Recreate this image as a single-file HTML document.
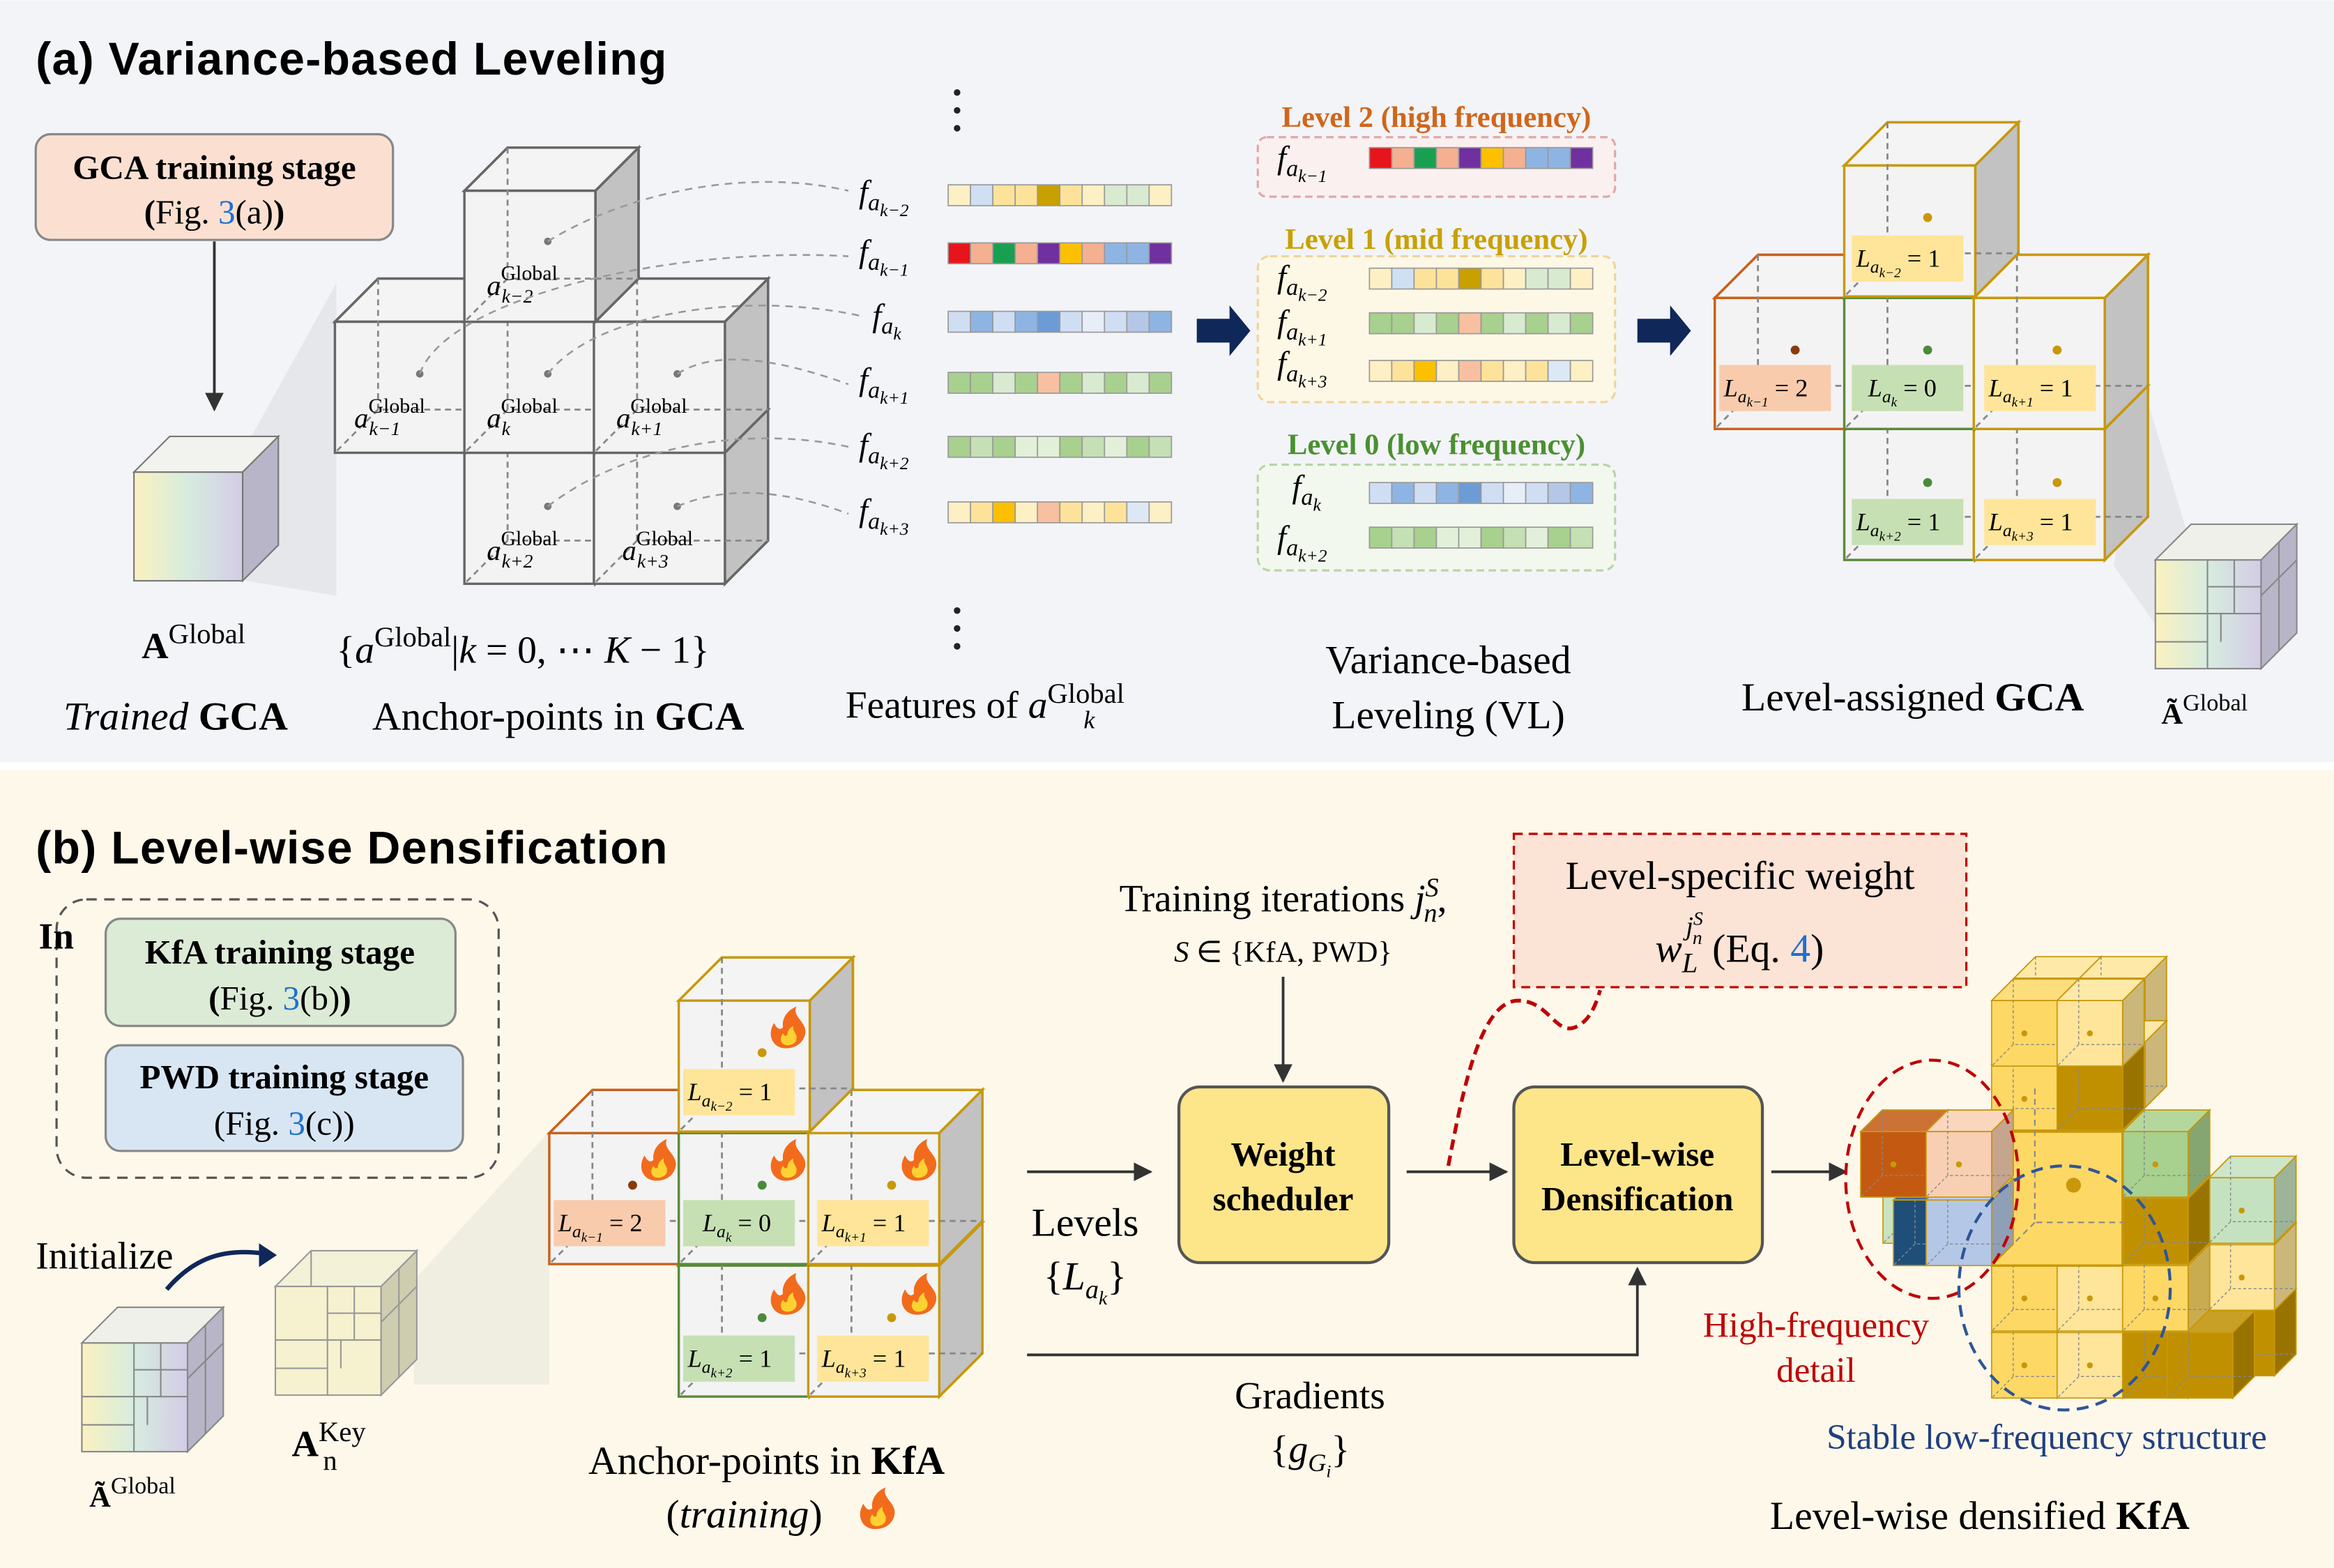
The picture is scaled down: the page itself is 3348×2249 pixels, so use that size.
<!DOCTYPE html>
<html><head><meta charset="utf-8"><style>
html,body{margin:0;padding:0;background:#fff}
svg{display:block}
.s{font-family:"Liberation Serif",serif}
.h{font-family:"Liberation Sans",sans-serif;font-weight:bold}
.m{font-family:"Liberation Serif",serif;font-style:italic}
</style></head><body>
<svg width="3348" height="2249" viewBox="0 0 1568 1053" xmlns="http://www.w3.org/2000/svg">
<defs>
<g id="cube" stroke-width="1.6">
<polygon points="0,0 29,-29 117,-29 88,0"/>
<polygon points="0,0 29,-29 117,-29 88,0" fill="#fff" fill-opacity=".15"/>
<polygon points="88,0 117,-29 117,59 88,88"/>
<polygon points="88,0 117,-29 117,59 88,88" fill="#000" fill-opacity=".2"/>
<rect width="88" height="88"/>
<path d="M29,-29V59H117M29,59L0,88" fill="none" stroke="#888" stroke-width="1.3" stroke-dasharray="4 3"/>
</g>
<g id="fl"><path d="M0,0c-9,0-13-9-8-17c2,4 4,5 6,3c-1-7 4-12 9-14c-3,7 7,10 6,18c-1,6-6,10-13,10z" fill="#f26b1d"/><path d="M1,-2c-4,0-6-4-3-8c1,2 2,2 3,1c0-3 2-5 4-6c-1,4 3,5 2,9c0,2-3,4-6,4z" fill="#fcd232"/></g>
<linearGradient id="gq" x1="0" y1="0" x2="1" y2="0"><stop offset="0" stop-color="#fbf1c0"/><stop offset=".5" stop-color="#d6ecdf"/><stop offset="1" stop-color="#d4cbe6"/></linearGradient>
<marker id="ar" viewBox="0 0 10 10" refX="9" refY="5" markerWidth="7" markerHeight="7" orient="auto"><path d="M0,0L10,5L0,10z" fill="#333"/></marker>
</defs>

<rect x="0" y="0" width="1568" height="512" fill="#f3f4f8"/>
<rect x="0" y="517" width="1568" height="536" fill="#fdf8ea"/>

<!-- (a) -->
<text x="24" y="50" class="h" font-size="31" letter-spacing="0.6">(a) Variance-based Leveling</text>
<rect x="24" y="90" width="240" height="71" rx="10" fill="#fbe0d2" stroke="#888" stroke-width="1.5"/>
<text x="144" y="120" class="s" font-size="23" font-weight="bold" text-anchor="middle">GCA training stage</text>
<text x="144" y="150" class="s" font-size="23" text-anchor="middle"><tspan font-weight="bold">(</tspan>Fig. <tspan fill="#1f6fd0">3</tspan>(a)<tspan font-weight="bold">)</tspan></text>
<line x1="144" y1="162" x2="144" y2="275" stroke="#333" stroke-width="1.8" marker-end="url(#ar)"/>

<polygon points="165,300 226,190 226,400 165,390" fill="#dcdde2" opacity=".6"/>
<g transform="translate(90,317)"><polygon points="0,0 24,-24 97,-24 73,0" fill="#f2f2ee" stroke="#777"/><polygon points="73,0 97,-24 97,49 73,73" fill="#b8b5c8" stroke="#777"/><rect width="73" height="73" fill="url(#gq)" stroke="#777"/></g>
<text x="130" y="442" class="s" font-size="25" text-anchor="middle"><tspan font-weight="bold">A</tspan><tspan dy="-10" font-size="19">Global</tspan></text>
<text x="118" y="490" class="s" font-size="27" text-anchor="middle"><tspan font-style="italic">Trained</tspan> <tspan font-weight="bold">GCA</tspan></text>

<!-- anchor cluster a -->
<g fill="#f3f3f3" stroke="#666">
<use href="#cube" x="312" y="304"/><use href="#cube" x="399" y="304"/>
<use href="#cube" x="225" y="216"/><use href="#cube" x="312" y="216"/><use href="#cube" x="399" y="216"/>
<use href="#cube" x="312" y="128"/>
</g>
<g fill="#777"><circle cx="368" cy="162" r="2.5"/><circle cx="282" cy="251" r="2.5"/><circle cx="368" cy="251" r="2.5"/><circle cx="455" cy="251" r="2.5"/><circle cx="368" cy="340" r="2.5"/><circle cx="455" cy="340" r="2.5"/></g>
<g class="m" font-size="19">
<text x="327" y="198">a<tspan dy="-10" font-style="normal" font-size="14">Global</tspan><tspan x="337" dy="15" font-size="13">k−2</tspan></text>
<text x="238" y="287">a<tspan dy="-10" font-style="normal" font-size="14">Global</tspan><tspan x="248" dy="15" font-size="13">k−1</tspan></text>
<text x="327" y="287">a<tspan dy="-10" font-style="normal" font-size="14">Global</tspan><tspan x="337" dy="15" font-size="13">k</tspan></text>
<text x="414" y="287">a<tspan dy="-10" font-style="normal" font-size="14">Global</tspan><tspan x="424" dy="15" font-size="13">k+1</tspan></text>
<text x="327" y="376">a<tspan dy="-10" font-style="normal" font-size="14">Global</tspan><tspan x="337" dy="15" font-size="13">k+2</tspan></text>
<text x="418" y="376">a<tspan dy="-10" font-style="normal" font-size="14">Global</tspan><tspan x="428" dy="15" font-size="13">k+3</tspan></text>
</g>
<g fill="none" stroke="#999" stroke-width="1.2" stroke-dasharray="5 4">
<path d="M368,162C420,130 500,112 570,128"/>
<path d="M282,251C300,200 450,165 570,172"/>
<path d="M368,251C400,210 500,195 578,212"/>
<path d="M455,251C480,235 520,240 570,258"/>
<path d="M368,340C420,300 500,285 570,300"/>
<path d="M455,340C490,325 530,330 570,345"/>
</g>
<text x="226" y="445" class="s" font-size="26">{<tspan font-style="italic">a</tspan><tspan dy="-11" font-size="19">Global</tspan><tspan dy="11">|</tspan><tspan font-style="italic">k</tspan> = 0, ⋯ <tspan font-style="italic">K</tspan> − 1}</text>
<text x="375" y="490" class="s" font-size="27" text-anchor="middle">Anchor-points in <tspan font-weight="bold">GCA</tspan></text>

<!-- features -->
<g class="m" font-size="22">
<text x="577" y="136">f<tspan font-size="16" dy="5">a</tspan><tspan font-size="12" dy="4">k−2</tspan></text>
<text x="577" y="176">f<tspan font-size="16" dy="5">a</tspan><tspan font-size="12" dy="4">k−1</tspan></text>
<text x="586" y="219">f<tspan font-size="16" dy="5">a</tspan><tspan font-size="12" dy="4">k</tspan></text>
<text x="577" y="262">f<tspan font-size="16" dy="5">a</tspan><tspan font-size="12" dy="4">k+1</tspan></text>
<text x="577" y="306">f<tspan font-size="16" dy="5">a</tspan><tspan font-size="12" dy="4">k+2</tspan></text>
<text x="577" y="350">f<tspan font-size="16" dy="5">a</tspan><tspan font-size="12" dy="4">k+3</tspan></text>
</g>
<g stroke="#999" stroke-width=".8">
<g transform="translate(637,124)"><rect x="0" width="15" height="14" fill="#fdf0c4"/><rect x="15" width="15" height="14" fill="#cfe0f3"/><rect x="30" width="15" height="14" fill="#fde39a"/><rect x="45" width="15" height="14" fill="#fde39a"/><rect x="60" width="15" height="14" fill="#c8a000"/><rect x="75" width="15" height="14" fill="#fde39a"/><rect x="90" width="15" height="14" fill="#fdf0c4"/><rect x="105" width="15" height="14" fill="#d8ead0"/><rect x="120" width="15" height="14" fill="#d8ead0"/><rect x="135" width="15" height="14" fill="#fdf0c4"/></g>
<g transform="translate(637,163)"><rect x="0" width="15" height="14" fill="#e8141c"/><rect x="15" width="15" height="14" fill="#f4b090"/><rect x="30" width="15" height="14" fill="#18a050"/><rect x="45" width="15" height="14" fill="#f4b090"/><rect x="60" width="15" height="14" fill="#7030a0"/><rect x="75" width="15" height="14" fill="#fdc000"/><rect x="90" width="15" height="14" fill="#f4b090"/><rect x="105" width="15" height="14" fill="#8eb4e3"/><rect x="120" width="15" height="14" fill="#8eb4e3"/><rect x="135" width="15" height="14" fill="#7030a0"/></g>
<g transform="translate(637,209)"><rect x="0" width="15" height="14" fill="#d0def3"/><rect x="15" width="15" height="14" fill="#8eb4e3"/><rect x="30" width="15" height="14" fill="#d0def3"/><rect x="45" width="15" height="14" fill="#8eb4e3"/><rect x="60" width="15" height="14" fill="#6d9bd6"/><rect x="75" width="15" height="14" fill="#d0def3"/><rect x="90" width="15" height="14" fill="#e8eef8"/><rect x="105" width="15" height="14" fill="#d0def3"/><rect x="120" width="15" height="14" fill="#b4c7e7"/><rect x="135" width="15" height="14" fill="#8eb4e3"/></g>
<g transform="translate(637,250)"><rect x="0" width="15" height="14" fill="#a8d08e"/><rect x="15" width="15" height="14" fill="#a8d08e"/><rect x="30" width="15" height="14" fill="#d8ead0"/><rect x="45" width="15" height="14" fill="#a8d08e"/><rect x="60" width="15" height="14" fill="#f8c0a0"/><rect x="75" width="15" height="14" fill="#a8d08e"/><rect x="90" width="15" height="14" fill="#d8ead0"/><rect x="105" width="15" height="14" fill="#a8d08e"/><rect x="120" width="15" height="14" fill="#d8ead0"/><rect x="135" width="15" height="14" fill="#a8d08e"/></g>
<g transform="translate(637,293)"><rect x="0" width="15" height="14" fill="#a8d08e"/><rect x="15" width="15" height="14" fill="#c5e0b4"/><rect x="30" width="15" height="14" fill="#a8d08e"/><rect x="45" width="15" height="14" fill="#e2f0d9"/><rect x="60" width="15" height="14" fill="#e2f0d9"/><rect x="75" width="15" height="14" fill="#a8d08e"/><rect x="90" width="15" height="14" fill="#c5e0b4"/><rect x="105" width="15" height="14" fill="#e2f0d9"/><rect x="120" width="15" height="14" fill="#a8d08e"/><rect x="135" width="15" height="14" fill="#c5e0b4"/></g>
<g transform="translate(637,337)"><rect x="0" width="15" height="14" fill="#fdf0c4"/><rect x="15" width="15" height="14" fill="#fde39a"/><rect x="30" width="15" height="14" fill="#fdc000"/><rect x="45" width="15" height="14" fill="#fdf0c4"/><rect x="60" width="15" height="14" fill="#f8c0a0"/><rect x="75" width="15" height="14" fill="#fde39a"/><rect x="90" width="15" height="14" fill="#fdf0c4"/><rect x="105" width="15" height="14" fill="#fde39a"/><rect x="120" width="15" height="14" fill="#dde8f5"/><rect x="135" width="15" height="14" fill="#fdf0c4"/></g>
</g>
<g fill="#222"><circle cx="643" cy="62" r="2.2"/><circle cx="643" cy="74" r="2.2"/><circle cx="643" cy="86" r="2.2"/><circle cx="643" cy="410" r="2.2"/><circle cx="643" cy="422" r="2.2"/><circle cx="643" cy="434" r="2.2"/></g>
<text x="568" y="482" class="s" font-size="26">Features of <tspan font-style="italic">a</tspan><tspan font-size="19" dy="-10">Global</tspan><tspan font-size="17" font-style="italic" x="728" dy="17">k</tspan></text>

<path d="M804,214h22v-9l14,17l-14,17v-9h-22z" fill="#10275a"/>
<path d="M1100,214h22v-9l14,17l-14,17v-9h-22z" fill="#10275a"/>

<!-- levels -->
<text x="965" y="85" class="s" font-size="20" font-weight="bold" fill="#d0661a" text-anchor="middle">Level 2 (high frequency)</text>
<rect x="845" y="92" width="240" height="40" rx="6" fill="#fbf0f0" stroke="#e0a8a8" stroke-width="1.5" stroke-dasharray="5 3"/>
<text x="965" y="167" class="s" font-size="20" font-weight="bold" fill="#c8a000" text-anchor="middle">Level 1 (mid frequency)</text>
<rect x="845" y="172" width="240" height="98" rx="8" fill="#fdf8e6" stroke="#eed49a" stroke-width="1.5" stroke-dasharray="5 3"/>
<text x="965" y="305" class="s" font-size="20" font-weight="bold" fill="#4a9030" text-anchor="middle">Level 0 (low frequency)</text>
<rect x="845" y="312" width="240" height="71" rx="8" fill="#f3f8ee" stroke="#b8d4a8" stroke-width="1.5" stroke-dasharray="5 3"/>
<g class="m" font-size="22">
<text x="858" y="113">f<tspan font-size="16" dy="5">a</tspan><tspan font-size="12" dy="4">k−1</tspan></text>
<text x="858" y="193">f<tspan font-size="16" dy="5">a</tspan><tspan font-size="12" dy="4">k−2</tspan></text>
<text x="858" y="223">f<tspan font-size="16" dy="5">a</tspan><tspan font-size="12" dy="4">k+1</tspan></text>
<text x="858" y="251">f<tspan font-size="16" dy="5">a</tspan><tspan font-size="12" dy="4">k+3</tspan></text>
<text x="868" y="334">f<tspan font-size="16" dy="5">a</tspan><tspan font-size="12" dy="4">k</tspan></text>
<text x="858" y="368">f<tspan font-size="16" dy="5">a</tspan><tspan font-size="12" dy="4">k+2</tspan></text>
</g>
<g stroke="#999" stroke-width=".8">
<g transform="translate(920,99)"><rect x="0" width="15" height="14" fill="#e8141c"/><rect x="15" width="15" height="14" fill="#f4b090"/><rect x="30" width="15" height="14" fill="#18a050"/><rect x="45" width="15" height="14" fill="#f4b090"/><rect x="60" width="15" height="14" fill="#7030a0"/><rect x="75" width="15" height="14" fill="#fdc000"/><rect x="90" width="15" height="14" fill="#f4b090"/><rect x="105" width="15" height="14" fill="#8eb4e3"/><rect x="120" width="15" height="14" fill="#8eb4e3"/><rect x="135" width="15" height="14" fill="#7030a0"/></g>
<g transform="translate(920,180)"><rect x="0" width="15" height="14" fill="#fdf0c4"/><rect x="15" width="15" height="14" fill="#cfe0f3"/><rect x="30" width="15" height="14" fill="#fde39a"/><rect x="45" width="15" height="14" fill="#fde39a"/><rect x="60" width="15" height="14" fill="#c8a000"/><rect x="75" width="15" height="14" fill="#fde39a"/><rect x="90" width="15" height="14" fill="#fdf0c4"/><rect x="105" width="15" height="14" fill="#d8ead0"/><rect x="120" width="15" height="14" fill="#d8ead0"/><rect x="135" width="15" height="14" fill="#fdf0c4"/></g>
<g transform="translate(920,210)"><rect x="0" width="15" height="14" fill="#a8d08e"/><rect x="15" width="15" height="14" fill="#a8d08e"/><rect x="30" width="15" height="14" fill="#d8ead0"/><rect x="45" width="15" height="14" fill="#a8d08e"/><rect x="60" width="15" height="14" fill="#f8c0a0"/><rect x="75" width="15" height="14" fill="#a8d08e"/><rect x="90" width="15" height="14" fill="#d8ead0"/><rect x="105" width="15" height="14" fill="#a8d08e"/><rect x="120" width="15" height="14" fill="#d8ead0"/><rect x="135" width="15" height="14" fill="#a8d08e"/></g>
<g transform="translate(920,242)"><rect x="0" width="15" height="14" fill="#fdf0c4"/><rect x="15" width="15" height="14" fill="#fde39a"/><rect x="30" width="15" height="14" fill="#fdc000"/><rect x="45" width="15" height="14" fill="#fdf0c4"/><rect x="60" width="15" height="14" fill="#f8c0a0"/><rect x="75" width="15" height="14" fill="#fde39a"/><rect x="90" width="15" height="14" fill="#fdf0c4"/><rect x="105" width="15" height="14" fill="#fde39a"/><rect x="120" width="15" height="14" fill="#dde8f5"/><rect x="135" width="15" height="14" fill="#fdf0c4"/></g>
<g transform="translate(920,324)"><rect x="0" width="15" height="14" fill="#d0def3"/><rect x="15" width="15" height="14" fill="#8eb4e3"/><rect x="30" width="15" height="14" fill="#d0def3"/><rect x="45" width="15" height="14" fill="#8eb4e3"/><rect x="60" width="15" height="14" fill="#6d9bd6"/><rect x="75" width="15" height="14" fill="#d0def3"/><rect x="90" width="15" height="14" fill="#e8eef8"/><rect x="105" width="15" height="14" fill="#d0def3"/><rect x="120" width="15" height="14" fill="#b4c7e7"/><rect x="135" width="15" height="14" fill="#8eb4e3"/></g>
<g transform="translate(920,354)"><rect x="0" width="15" height="14" fill="#a8d08e"/><rect x="15" width="15" height="14" fill="#c5e0b4"/><rect x="30" width="15" height="14" fill="#a8d08e"/><rect x="45" width="15" height="14" fill="#e2f0d9"/><rect x="60" width="15" height="14" fill="#e2f0d9"/><rect x="75" width="15" height="14" fill="#a8d08e"/><rect x="90" width="15" height="14" fill="#c5e0b4"/><rect x="105" width="15" height="14" fill="#e2f0d9"/><rect x="120" width="15" height="14" fill="#a8d08e"/><rect x="135" width="15" height="14" fill="#c5e0b4"/></g>
</g>
<text x="973" y="452" class="s" font-size="27" text-anchor="middle">Variance-based</text>
<text x="973" y="489" class="s" font-size="27" text-anchor="middle">Leveling (VL)</text>

<!-- level-assigned GCA -->
<polygon points="1440,260 1470,360 1470,450 1420,380" fill="#dcdde2" opacity=".6"/>
<g fill="#f3f3f3">
<use href="#cube" x="1239" y="288" stroke="#5a8a3a"/><use href="#cube" x="1326" y="288" stroke="#c8980a"/>
<use href="#cube" x="1152" y="200" stroke="#c8601a"/><use href="#cube" x="1239" y="200" stroke="#5a8a3a"/><use href="#cube" x="1326" y="200" stroke="#c8980a"/>
<use href="#cube" x="1239" y="111" stroke="#c8980a"/>
</g>
<circle cx="1295" cy="146" r="3" fill="#c8980a"/><circle cx="1206" cy="235" r="3" fill="#8a3a0a"/><circle cx="1295" cy="235" r="3" fill="#4a8a3a"/><circle cx="1382" cy="235" r="3" fill="#c8980a"/><circle cx="1295" cy="324" r="3" fill="#4a8a3a"/><circle cx="1382" cy="324" r="3" fill="#c8980a"/>
<rect x="1244" y="158" width="75" height="31" fill="#fee599"/><rect x="1155" y="245" width="75" height="31" fill="#f8cbad"/><rect x="1244" y="245" width="75" height="31" fill="#c6e0b4"/><rect x="1333" y="245" width="75" height="31" fill="#fee599"/><rect x="1244" y="335" width="75" height="31" fill="#c6e0b4"/><rect x="1333" y="335" width="75" height="31" fill="#fee599"/>
<g class="m" font-size="17">
<text x="1247" y="179">L<tspan font-size="12" dy="4">a</tspan><tspan font-size="9" dy="3">k−2</tspan><tspan font-style="normal" dy="-7"> = 1</tspan></text>
<text x="1158" y="266">L<tspan font-size="12" dy="4">a</tspan><tspan font-size="9" dy="3">k−1</tspan><tspan font-style="normal" dy="-7"> = 2</tspan></text>
<text x="1255" y="266">L<tspan font-size="12" dy="4">a</tspan><tspan font-size="9" dy="3">k</tspan><tspan font-style="normal" dy="-7"> = 0</tspan></text>
<text x="1336" y="266">L<tspan font-size="12" dy="4">a</tspan><tspan font-size="9" dy="3">k+1</tspan><tspan font-style="normal" dy="-7"> = 1</tspan></text>
<text x="1247" y="356">L<tspan font-size="12" dy="4">a</tspan><tspan font-size="9" dy="3">k+2</tspan><tspan font-style="normal" dy="-7"> = 1</tspan></text>
<text x="1336" y="356">L<tspan font-size="12" dy="4">a</tspan><tspan font-size="9" dy="3">k+3</tspan><tspan font-style="normal" dy="-7"> = 1</tspan></text>
</g>
<g transform="translate(1448,376)" stroke="#888" stroke-width="1"><polygon points="0,0 24,-24 95,-24 71,0" fill="#f0f0ea"/><polygon points="71,0 95,-24 95,49 71,73" fill="#b8b5c8"/><rect width="71" height="73" fill="url(#gq)"/><path d="M35,0V73M0,36H71M35,18H71M53,0V36M44,36V55M0,55H35" fill="none"/><path d="M83,-12V61M71,24L95,0" fill="none"/></g>
<text x="1285" y="477" class="s" font-size="27" text-anchor="middle">Level-assigned <tspan font-weight="bold">GCA</tspan></text>
<text x="1452" y="486" class="s" font-size="20"><tspan font-weight="bold">Ã</tspan><tspan dy="-9" font-size="16">Global</tspan></text>

<!-- (b) -->
<text x="24" y="580" class="h" font-size="31" letter-spacing="0.6">(b) Level-wise Densification</text>
<rect x="38" y="604" width="297" height="187" rx="20" fill="none" stroke="#555" stroke-width="1.5" stroke-dasharray="7 5"/>
<text x="26" y="637" class="s" font-size="25" font-weight="bold">In</text>
<rect x="71" y="617" width="235" height="72" rx="10" fill="#dcebd6" stroke="#888" stroke-width="1.5"/>
<text x="188" y="647" class="s" font-size="23" font-weight="bold" text-anchor="middle">KfA training stage</text>
<text x="188" y="678" class="s" font-size="23" text-anchor="middle"><tspan font-weight="bold">(</tspan>Fig. <tspan fill="#1f6fd0">3</tspan>(b)<tspan font-weight="bold">)</tspan></text>
<rect x="71" y="702" width="240" height="71" rx="10" fill="#d8e6f3" stroke="#888" stroke-width="1.5"/>
<text x="191" y="731" class="s" font-size="23" font-weight="bold" text-anchor="middle">PWD training stage</text>
<text x="191" y="762" class="s" font-size="23" text-anchor="middle">(Fig. <tspan fill="#1f6fd0">3</tspan>(c))</text>

<text x="24" y="852" class="s" font-size="26">Initialize</text>
<path d="M112,866C130,845 150,838 178,842" fill="none" stroke="#10275a" stroke-width="3"/>
<path d="M186,843l-12,-8v16z" fill="#10275a"/>
<g transform="translate(55,902)" stroke="#888" stroke-width="1"><polygon points="0,0 24,-24 95,-24 71,0" fill="#f0f0ea"/><polygon points="71,0 95,-24 95,49 71,73" fill="#b8b5c8"/><rect width="71" height="73" fill="url(#gq)"/><path d="M35,0V73M0,36H71M35,18H71M53,0V36M44,36V55M0,55H35" fill="none"/><path d="M83,-12V61M71,24L95,0" fill="none"/></g>
<text x="60" y="1012" class="s" font-size="20"><tspan font-weight="bold">Ã</tspan><tspan dy="-9" font-size="16">Global</tspan></text>
<polygon points="278,860 369,760 369,930 278,930" fill="#e8e6da" opacity=".6"/>
<g transform="translate(185,864)" stroke="#999" stroke-width="1"><polygon points="0,0 24,-24 95,-24 71,0" fill="#f3f1d8"/><polygon points="71,0 95,-24 95,49 71,73" fill="#cfcdb0"/><rect width="71" height="73" fill="#f6f2cf"/><path d="M35,0V73M0,36H71M35,18H71M53,0V36M44,36V55M0,55H35" fill="none"/><path d="M83,-12V61M71,24L95,0M24,-24V0" fill="none"/></g>
<text x="196" y="978" class="s" font-size="25"><tspan font-weight="bold">A</tspan><tspan dy="-10" font-size="19">Key</tspan><tspan x="217" dy="19" font-size="19">n</tspan></text>

<!-- KfA cluster -->
<g fill="#f3f3f3">
<use href="#cube" x="456" y="850" stroke="#5a8a3a"/><use href="#cube" x="543" y="850" stroke="#c8980a"/>
<use href="#cube" x="369" y="761" stroke="#c8601a"/><use href="#cube" x="456" y="761" stroke="#5a8a3a"/><use href="#cube" x="543" y="761" stroke="#c8980a"/>
<use href="#cube" x="456" y="672" stroke="#c8980a"/>
</g>
<circle cx="512" cy="707" r="3" fill="#c8980a"/><circle cx="425" cy="796" r="3" fill="#8a3a0a"/><circle cx="512" cy="796" r="3" fill="#4a8a3a"/><circle cx="599" cy="796" r="3" fill="#c8980a"/><circle cx="512" cy="885" r="3" fill="#4a8a3a"/><circle cx="599" cy="885" r="3" fill="#c8980a"/>
<rect x="459" y="718" width="75" height="31" fill="#fee599"/><rect x="372" y="806" width="75" height="31" fill="#f8cbad"/><rect x="459" y="806" width="75" height="31" fill="#c6e0b4"/><rect x="549" y="806" width="75" height="31" fill="#fee599"/><rect x="459" y="897" width="75" height="31" fill="#c6e0b4"/><rect x="549" y="897" width="75" height="31" fill="#fee599"/>
<g class="m" font-size="17">
<text x="462" y="739">L<tspan font-size="12" dy="4">a</tspan><tspan font-size="9" dy="3">k−2</tspan><tspan font-style="normal" dy="-7"> = 1</tspan></text>
<text x="375" y="827">L<tspan font-size="12" dy="4">a</tspan><tspan font-size="9" dy="3">k−1</tspan><tspan font-style="normal" dy="-7"> = 2</tspan></text>
<text x="472" y="827">L<tspan font-size="12" dy="4">a</tspan><tspan font-size="9" dy="3">k</tspan><tspan font-style="normal" dy="-7"> = 0</tspan></text>
<text x="552" y="827">L<tspan font-size="12" dy="4">a</tspan><tspan font-size="9" dy="3">k+1</tspan><tspan font-style="normal" dy="-7"> = 1</tspan></text>
<text x="462" y="918">L<tspan font-size="12" dy="4">a</tspan><tspan font-size="9" dy="3">k+2</tspan><tspan font-style="normal" dy="-7"> = 1</tspan></text>
<text x="552" y="918">L<tspan font-size="12" dy="4">a</tspan><tspan font-size="9" dy="3">k+3</tspan><tspan font-style="normal" dy="-7"> = 1</tspan></text>
</g>
<use href="#fl" x="528" y="704"/><use href="#fl" x="441" y="793"/><use href="#fl" x="528" y="793"/><use href="#fl" x="616" y="793"/><use href="#fl" x="528" y="883"/><use href="#fl" x="616" y="883"/>
<text x="515" y="990" class="s" font-size="27" text-anchor="middle">Anchor-points in <tspan font-weight="bold">KfA</tspan></text>
<text x="500" y="1026" class="s" font-size="27" text-anchor="middle">(<tspan font-style="italic">training</tspan>)</text>
<use href="#fl" x="588" y="1027"/>

<!-- flow -->
<text x="862" y="612" class="s" font-size="26" text-anchor="middle">Training iterations <tspan font-style="italic">j</tspan><tspan font-size="18" font-style="italic" dy="-10">S</tspan><tspan font-size="18" font-style="italic" dx="-10" dy="17">n</tspan><tspan dy="-7">,</tspan></text>
<text x="862" y="646" class="s" font-size="20" text-anchor="middle"><tspan font-style="italic">S</tspan> ∈ {KfA, PWD}</text>
<line x1="862" y1="656" x2="862" y2="726" stroke="#333" stroke-width="1.8" marker-end="url(#ar)"/>
<rect x="792" y="730" width="141" height="118" rx="14" fill="#fde58a" stroke="#555" stroke-width="2"/>
<text x="862" y="783" class="s" font-size="23" font-weight="bold" text-anchor="middle">Weight</text>
<text x="862" y="813" class="s" font-size="23" font-weight="bold" text-anchor="middle">scheduler</text>
<line x1="690" y1="787" x2="773" y2="787" stroke="#333" stroke-width="1.8" marker-end="url(#ar)"/>
<text x="729" y="830" class="s" font-size="27" text-anchor="middle">Levels</text>
<text x="729" y="866" class="s" font-size="27" text-anchor="middle">{<tspan font-style="italic">L</tspan><tspan font-size="18" font-style="italic" dy="6">a</tspan><tspan font-size="13" font-style="italic" dy="4">k</tspan><tspan dy="-10">}</tspan></text>
<line x1="945" y1="787" x2="1012" y2="787" stroke="#333" stroke-width="1.8" marker-end="url(#ar)"/>
<rect x="1017" y="730" width="167" height="118" rx="14" fill="#fde58a" stroke="#555" stroke-width="2"/>
<text x="1100" y="783" class="s" font-size="23" font-weight="bold" text-anchor="middle">Level-wise</text>
<text x="1100" y="813" class="s" font-size="23" font-weight="bold" text-anchor="middle">Densification</text>
<line x1="1190" y1="787" x2="1240" y2="787" stroke="#333" stroke-width="1.8" marker-end="url(#ar)"/>
<polyline points="690,910 1100,910 1100,852" fill="none" stroke="#333" stroke-width="1.8" marker-end="url(#ar)"/>
<text x="880" y="946" class="s" font-size="26" text-anchor="middle">Gradients</text>
<text x="880" y="982" class="s" font-size="26" text-anchor="middle">{<tspan font-style="italic">g</tspan><tspan font-size="17" font-style="italic" dy="6">G</tspan><tspan font-size="12" font-style="italic" dy="4">i</tspan><tspan dy="-10">}</tspan></text>
<rect x="1017" y="560" width="304" height="103" fill="#fbe3d5" stroke="#c00000" stroke-width="1.5" stroke-dasharray="6 4"/>
<text x="1169" y="597" class="s" font-size="27" text-anchor="middle">Level-specific weight</text>
<text x="1112" y="646" class="s" font-size="27" font-style="italic">w<tspan font-size="19" dy="7">L</tspan><tspan font-size="18" dx="-8" dy="-25">j</tspan><tspan font-size="13" dy="-7">S</tspan><tspan font-size="13" dx="-7" dy="13">n</tspan><tspan font-style="normal" font-size="27" dy="12">  (Eq. </tspan><tspan font-style="normal" font-size="27" fill="#1f6fd0">4</tspan><tspan font-style="normal" font-size="27">)</tspan></text>
<path d="M973,783C983,730 995,672 1020,672C1040,672 1045,695 1058,690C1068,686 1072,675 1075,665" fill="none" stroke="#c00000" stroke-width="2.5" stroke-dasharray="7 4"/>

<!-- densified KfA -->
<g stroke="#c8980a">
<!-- back layer top -->
<g transform="translate(1353,657) scale(.5)"><use href="#cube" x="0" y="0" fill="#fee599"/><use href="#cube" x="88" y="0" fill="#fee599"/></g>
<g transform="translate(1353,700) scale(.5)"><use href="#cube" x="88" y="0" fill="#fee599"/></g>
<g transform="translate(1338,895) scale(.5)"><use href="#cube" x="0" y="0" fill="#fdd865"/><use href="#cube" x="88" y="0" fill="#fee599"/></g>
<g transform="translate(1338,850) scale(.5)"><use href="#cube" x="0" y="0" fill="#fdd865"/><use href="#cube" x="88" y="0" fill="#fee599"/></g>
<g transform="translate(1338,715) scale(.5)"><use href="#cube" x="0" y="0" fill="#fdd865"/><use href="#cube" x="88" y="0" fill="#c09000"/></g>
<g transform="translate(1338,672) scale(.5)"><use href="#cube" x="0" y="0" fill="#fdd865"/><use href="#cube" x="88" y="0" fill="#fee599"/></g>
<g transform="translate(1484,880) scale(.5)"><use href="#cube" x="0" y="0" fill="#c09000"/></g>
<g transform="translate(1484,836) scale(.5)"><use href="#cube" x="0" y="0" fill="#fee599"/></g>
<g transform="translate(1484,791) scale(.5)"><use href="#cube" x="0" y="0" fill="#c5e2c0"/></g>
<g transform="translate(1426,895) scale(.5)"><use href="#cube" x="0" y="0" fill="#c09000"/><use href="#cube" x="60" y="0" fill="#c09000"/></g>
<g transform="translate(1426,850) scale(.5)"><use href="#cube" x="0" y="0" fill="#fdd865"/></g>
<g transform="translate(1426,805) scale(.5)"><use href="#cube" x="0" y="0" fill="#c09000"/></g>
<g transform="translate(1426,760) scale(.5)"><use href="#cube" x="0" y="0" fill="#a8d08e"/></g>
<rect x="1338" y="760" width="88" height="90" fill="#fdd865" stroke-width="1.6"/>
<path d="M1367,731V821H1426M1367,821L1338,850" fill="none" stroke="#888" stroke-dasharray="4 3"/>
<circle cx="1393" cy="796" r="5" fill="#c8980a" stroke="none"/>
<g transform="translate(1265,791) scale(.5)"><use href="#cube" x="0" y="0" fill="#c9e3c0"/></g>
<g transform="translate(1272,806) scale(.5)"><use href="#cube" x="0" y="0" fill="#1f4e79"/></g>
<g transform="translate(1294,806) scale(.5)"><use href="#cube" x="0" y="0" fill="#b4c7e7"/></g>
<g transform="translate(1250,760) scale(.5)"><use href="#cube" x="0" y="0" fill="#c45a12"/><use href="#cube" x="88" y="0" fill="#f8cfb2"/></g>
</g>
<g fill="#c8980a"><circle cx="1360" cy="694" r="2"/><circle cx="1404" cy="694" r="2"/><circle cx="1360" cy="738" r="2"/><circle cx="1360" cy="872" r="2"/><circle cx="1404" cy="872" r="2"/><circle cx="1360" cy="917" r="2"/><circle cx="1404" cy="917" r="2"/><circle cx="1448" cy="782" r="2"/><circle cx="1448" cy="872" r="2"/><circle cx="1506" cy="813" r="2"/><circle cx="1506" cy="858" r="2"/><circle cx="1272" cy="782" r="2"/><circle cx="1316" cy="782" r="2"/></g>
<ellipse cx="1298" cy="792" rx="58" ry="80" fill="none" stroke="#c00000" stroke-width="2" stroke-dasharray="8 5"/>
<ellipse cx="1387" cy="865" rx="71" ry="82" fill="none" stroke="#2f5597" stroke-width="2" stroke-dasharray="8 5"/>
<text x="1220" y="898" class="s" font-size="24" fill="#c00000" text-anchor="middle">High-frequency</text>
<text x="1220" y="928" class="s" font-size="24" fill="#c00000" text-anchor="middle">detail</text>
<text x="1375" y="973" class="s" font-size="24" fill="#1f3f7f" text-anchor="middle">Stable low-frequency structure</text>
<text x="1330" y="1027" class="s" font-size="27" text-anchor="middle">Level-wise densified <tspan font-weight="bold">KfA</tspan></text>
</svg>
</body></html>
